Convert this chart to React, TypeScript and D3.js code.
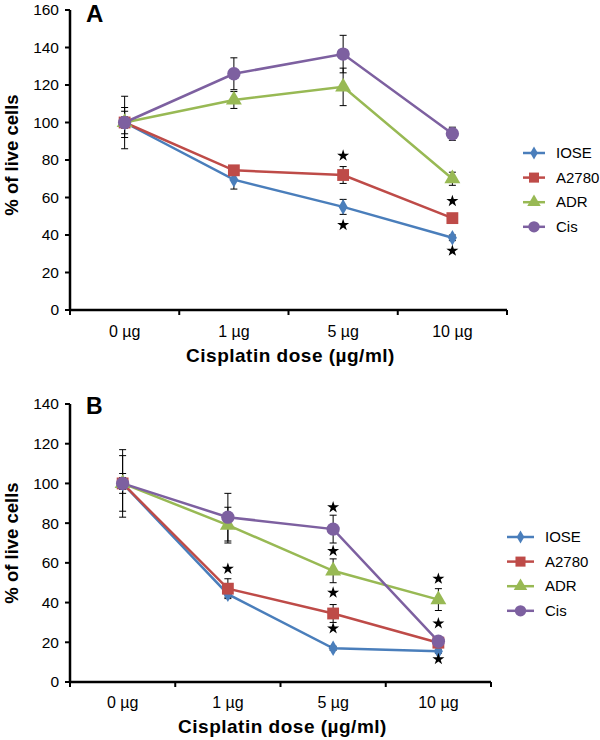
import React from "react";
import * as d3 from "d3";

const categories = ["0 µg", "1 µg", "5 µg", "10 µg"];
const seriesNames = ["IOSE", "A2780", "ADR", "Cis"];
const colors = ["#4A7EBB", "#BE4B48", "#98B954", "#7D60A0"];
const markers = ["diamond", "square", "triangle", "circle"];

// Panel A
const aIOSE = [100, 69.5, 55, 38.5];
const aA2780 = [100, 74.5, 72, 49];
const aADR = [100, 112, 119, 70];
const aCis = [100, 126, 136.5, 94];
const aIOSEErr = [6, 5, 4, 1.5];
const aA2780Err = [3, 2, 4.5, 1.5];
const aADRErr = [8, 4.5, 10, 3.5];
const aCisErr = [14, 8.5, 10, 3.5];
const aStars = [
  { cat: "5 µg", value: 82.3 },
  { cat: "5 µg", value: 45.3 },
  { cat: "10 µg", value: 58.1 },
  { cat: "10 µg", value: 31.6 },
];
const aTicks = [0, 20, 40, 60, 80, 100, 120, 140, 160];

// Panel B
const bIOSE = [100, 44.2, 17, 15.5];
const bA2780 = [100, 47, 34.5, 19.8];
const bADR = [100, 79, 56, 41.5];
const bCis = [100, 83, 77, 20.5];
const bIOSEErr = [5, 1.5, 1, 1];
const bA2780Err = [3, 5, 4.5, 1.5];
const bADRErr = [14, 9, 6, 5.5];
const bCisErr = [17, 12, 7, 1.5];
const bStars = [
  { cat: "1 µg", value: 57 },
  { cat: "5 µg", value: 88 },
  { cat: "5 µg", value: 66 },
  { cat: "5 µg", value: 45 },
  { cat: "5 µg", value: 27 },
  { cat: "10 µg", value: 52 },
  { cat: "10 µg", value: 29.5 },
  { cat: "10 µg", value: 11.5 },
];
const bTicks = [0, 20, 40, 60, 80, 100, 120, 140];

const FONT = "'Liberation Sans', Arial, Helvetica, sans-serif";

function markerPath(kind: string): string {
  const sym =
    kind === "diamond"
      ? d3.symbolDiamond
      : kind === "square"
      ? d3.symbolSquare
      : kind === "triangle"
      ? d3.symbolTriangle
      : d3.symbolCircle;
  const size =
    kind === "diamond" ? 70 : kind === "square" ? 140 : kind === "triangle" ? 110 : 140;
  return d3.symbol(sym, size)() as string;
}

type PanelProps = {
  label: string;
  labelSize: number;
  labelDy: number;
  left: number;
  right: number;
  top: number;
  bottom: number;
  yMax: number;
  ticks: number[];
  values: number[][];
  errs: number[][];
  stars: { cat: string; value: number }[];
  legendX: number;
  legendY: number;
  legendLine: number;
  xLabelDy: number;
  titleDy: number;
  yTitleCenter: number;
};

function Panel(p: PanelProps) {
  const x = d3.scaleBand<string>().domain(categories).range([p.left, p.right]).padding(0);
  const y = d3.scaleLinear().domain([0, p.yMax]).range([p.bottom, p.top]);
  const cx = (c: string) => (x(c) as number) + x.bandwidth() / 2;
  const line = d3
    .line<number>()
    .x((_, i) => cx(categories[i]))
    .y((v) => y(v));
  const boundaries = categories.map((c) => x(c) as number).concat([p.right]);
  return (
    <g>
      {/* y axis */}
      <line x1={p.left} x2={p.left} y1={p.top} y2={p.bottom} stroke="#000" strokeWidth={2.5} />
      {p.ticks.map((t) => (
        <g key={t}>
          <line x1={p.left - 5} x2={p.left} y1={y(t)} y2={y(t)} stroke="#000" strokeWidth={2} />
          <text x={p.left - 11} y={y(t)} dy="0.35em" textAnchor="end" fontSize={15.5} fontFamily={FONT}>
            {t}
          </text>
        </g>
      ))}
      {/* x axis */}
      <line x1={p.left - 1} x2={p.right} y1={p.bottom} y2={p.bottom} stroke="#000" strokeWidth={2.5} />
      {boundaries.map((b, i) => (
        <line key={i} x1={b} x2={b} y1={p.bottom} y2={p.bottom + 5} stroke="#000" strokeWidth={2} />
      ))}
      {categories.map((c) => (
        <text key={c} x={cx(c)} y={p.bottom + p.xLabelDy} textAnchor="middle" fontSize={16} fontFamily={FONT}>
          {c}
        </text>
      ))}
      <text
        x={(p.left + p.right) / 2 + 2}
        y={p.bottom + p.titleDy}
        textAnchor="middle"
        fontSize={19}
        letterSpacing={0.5}
        fontWeight="bold"
        fontFamily={FONT}
      >
        Cisplatin dose (µg/ml)
      </text>
      <text
        transform={`translate(${18},${p.yTitleCenter}) rotate(-90)`}
        textAnchor="middle"
        fontSize={18.5}
        fontWeight="bold"
        fontFamily={FONT}
      >
        % of live cells
      </text>
      <text x={p.left + 16} y={p.top + p.labelDy} fontSize={p.labelSize} fontWeight="bold" fontFamily={FONT}>
        {p.label}
      </text>
      {/* lines */}
      {p.values.map((vals, si) => (
        <path key={si} d={line(vals) as string} fill="none" stroke={colors[si]} strokeWidth={2.5} />
      ))}
      {/* error bars */}
      {p.values.map((vals, si) =>
        vals.map((v, i) => {
          const e = p.errs[si][i];
          const xx = cx(categories[i]);
          return (
            <g key={`${si}-${i}`} stroke="#000" strokeWidth={1}>
              <line x1={xx} x2={xx} y1={y(v - e)} y2={y(v + e)} />
              <line x1={xx - 3.5} x2={xx + 3.5} y1={y(v - e)} y2={y(v - e)} />
              <line x1={xx - 3.5} x2={xx + 3.5} y1={y(v + e)} y2={y(v + e)} />
            </g>
          );
        })
      )}
      {/* markers */}
      {p.values.map((vals, si) =>
        vals.map((v, i) => (
          <path
            key={`m${si}-${i}`}
            d={markerPath(markers[si])}
            transform={`translate(${cx(categories[i])},${y(v)})`}
            fill={colors[si]}
          />
        ))
      )}
      {/* stars */}
      {p.stars.map((s, i) => (
        <path
          key={`s${i}`}
          d={d3.symbol(d3.symbolStar, 45)() as string}
          transform={`translate(${cx(s.cat)},${y(s.value)})`}
          fill="#000"
        />
      ))}
      {/* legend */}
      {seriesNames.map((n, i) => {
        const ly = p.legendY + i * 24.6;
        return (
          <g key={n}>
            <line x1={p.legendX} x2={p.legendX + p.legendLine} y1={ly} y2={ly} stroke={colors[i]} strokeWidth={2.5} />
            <path
              d={markerPath(markers[i])}
              transform={`translate(${p.legendX + p.legendLine / 2},${ly}) scale(0.85)`}
              fill={colors[i]}
            />
            <text x={p.legendX + p.legendLine + 11} y={ly} dy="0.35em" fontSize={15} fontFamily={FONT}>
              {n}
            </text>
          </g>
        );
      })}
    </g>
  );
}

export default function App() {
  return (
    <svg
      width={600}
      height={740}
      style={{ position: "absolute", left: 0, top: 0, background: "#fff" }}
    >
      <rect width={600} height={740} fill="#fff" />
      <Panel
        label="A"
        labelSize={24}
        labelDy={12}
        left={70}
        right={507}
        top={10}
        bottom={310}
        yMax={160}
        ticks={aTicks}
        values={[aIOSE, aA2780, aADR, aCis]}
        errs={[aIOSEErr, aA2780Err, aADRErr, aCisErr]}
        stars={aStars}
        legendX={523}
        legendY={153}
        legendLine={22}
        xLabelDy={26.5}
        titleDy={52}
        yTitleCenter={155}
      />
      <Panel
        label="B"
        labelSize={23}
        labelDy={10}
        left={70}
        right={491}
        top={404}
        bottom={682}
        yMax={140}
        ticks={bTicks}
        values={[bIOSE, bA2780, bADR, bCis]}
        errs={[bIOSEErr, bA2780Err, bADRErr, bCisErr]}
        stars={bStars}
        legendX={507}
        legendY={537}
        legendLine={27}
        xLabelDy={25.5}
        titleDy={51}
        yTitleCenter={543}
      />
    </svg>
  );
}
